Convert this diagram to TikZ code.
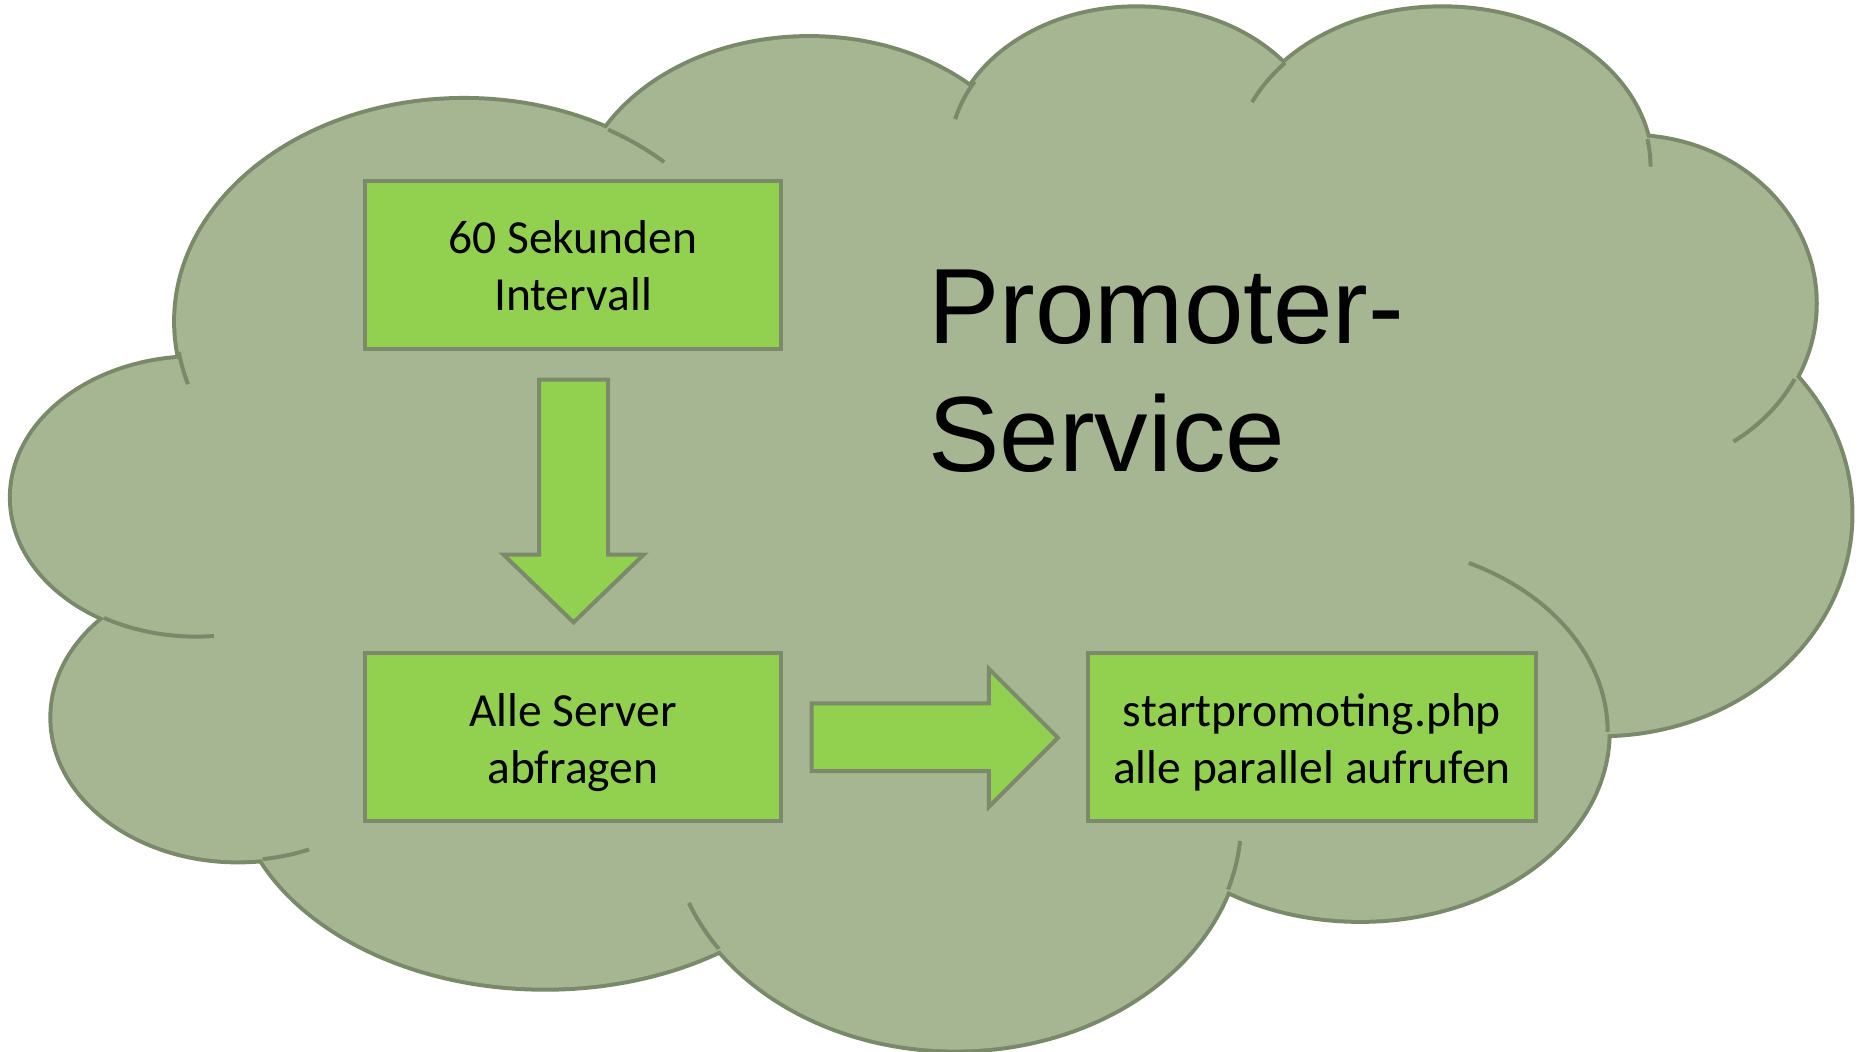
\documentclass[tikz,border=0pt]{standalone}
\usepackage{fontspec}
\setmainfont{Carlito}
\newfontfamily\arialfont{Liberation Sans}
\definecolor{cloudfill}{HTML}{A6B592}
\definecolor{cloudline}{HTML}{7A896A}
\definecolor{boxline}{HTML}{7B8A6A}
\definecolor{boxgreen}{HTML}{92D050}
\newcommand\boxlines[2]{\parbox[c][167.8pt][t]{#1}{\centering\fontsize{47.5}{57}\selectfont\rule{0pt}{73pt}#2}}
\begin{document}
\begin{tikzpicture}[x=1.19pt,y=-1.19pt,
  lobe/.style={fill=cloudfill, draw=cloudline, line width=8pt},
  lobefill/.style={fill=cloudfill},
  seam/.style={draw=cloudline, line width=4pt},
  stepbox/.style={draw=boxline, fill=boxgreen, line width=4pt, minimum width=#1, minimum height=167.8pt, inner sep=0pt},
  blockarrow/.style={draw=boxline, fill=boxgreen, line width=4pt, line join=miter},
  titletext/.style={anchor=base west, inner sep=0pt, font=\arialfont\fontsize{107}{120}\selectfont}]
\useasboundingbox (0,0) rectangle (1568.07,884.03);
\def\lobes{390/270/242/186, 680/180/195/148, 955/130/157/123, 1212/140/175/133, 1370/255/155/140, 1345/432/210/185, 1143/615/208/158, 803/690/240/192, 458/650/260/180, 200/603/156/120, 165/418/155/117}
% outline of all lobes
\foreach \cx/\cy/\rx/\ry in \lobes {\path[lobe] (\cx,\cy) ellipse [x radius=\rx, y radius=\ry];}
% refill to hide inner parts
\foreach \cx/\cy/\rx/\ry in \lobes {\path[lobefill] (\cx,\cy) ellipse [x radius=\rx, y radius=\ry];}
\path[lobefill] (390,270) -- (680,180) -- (955,130) -- (1212,140) -- (1370,255) -- (1345,432) -- (1143,615) -- (803,690) -- (458,650) -- (200,603) -- (165,418) -- cycle;
% inner seams
\draw[seam] plot[domain=60:46, samples=20] ({390+242*cos(\x)},{270-186*sin(\x)});
\draw[seam] plot[domain=188:196.5, samples=20] ({390+242*cos(\x)},{270-186*sin(\x)});
\draw[seam] plot[domain=150:166, samples=20] ({955+157*cos(\x)},{130-123*sin(\x)});
\draw[seam] plot[domain=139:156, samples=20] ({1212+175*cos(\x)},{140-133*sin(\x)});
\draw[seam] plot[domain=10:0, samples=20] ({1212+175*cos(\x)},{140-133*sin(\x)});
\draw[seam] plot[domain=-27:-56, samples=20] ({1370+155*cos(\x)},{255-140*sin(\x)});
\draw[seam] plot[domain=64:0, samples=30] ({1143+208*cos(\x)},{615-158*sin(\x)});
\draw[seam] plot[domain=-5:-17.4, samples=20] ({803+240*cos(\x)},{690-192*sin(\x)});
\draw[seam] plot[domain=201:214, samples=20] ({803+240*cos(\x)},{690-192*sin(\x)});
\draw[seam] plot[domain=-82.4:-67.5, samples=20] ({200+156*cos(\x)},{603-120*sin(\x)});
\draw[seam] plot[domain=-120:-84.5, samples=20] ({165+155*cos(\x)},{418-117*sin(\x)});
% boxes
\node[stepbox=415.3pt] (interval) at (481.5,222.5) {\boxlines{410pt}{60 Sekunden\\Intervall}};
\node[stepbox=415.3pt] (server) at (481.5,619.5) {\boxlines{410pt}{Alle Server\\abfragen}};
\node[stepbox=448.6pt] (start) at (1102.5,619.5) {\boxlines{443pt}{startpromoting.php\\alle parallel aufrufen}};
% block arrows
\draw[blockarrow] (453,319) -- (511,319) -- (511,466) -- (541,466) -- (482,523) -- (423,466) -- (453,466) -- cycle;
\draw[blockarrow] (682,591) -- (831,591) -- (831,562) -- (889,620) -- (831,678) -- (831,648) -- (682,648) -- cycle;
% title
\node[titletext] (promo1) at (780,289) {Promoter-};
\node[titletext] (promo2) at (780,396) {Service};
\end{tikzpicture}
\end{document}
